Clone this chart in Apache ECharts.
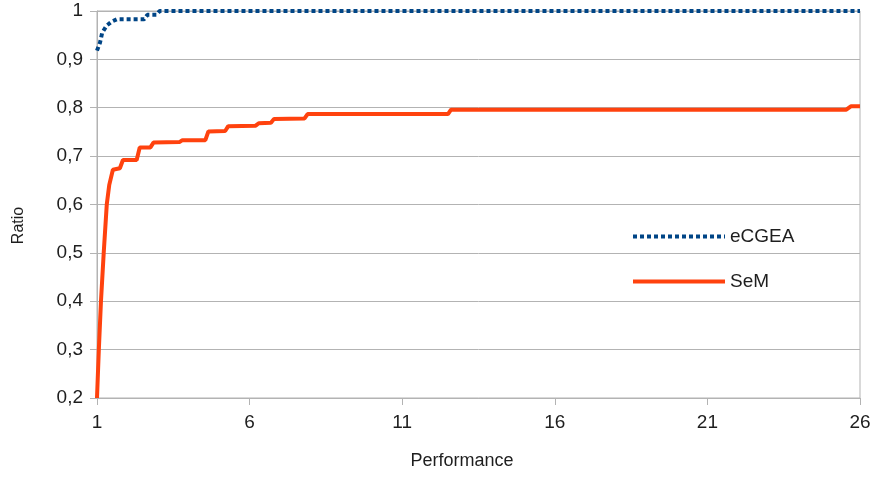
<!DOCTYPE html>
<html>
<head>
<meta charset="utf-8">
<script src="https://cdn.jsdelivr.net/npm/echarts@6/dist/echarts.min.js"></script>
<style>
  html, body { margin: 0; padding: 0; background: #fff; }
  #chart { width: 874px; height: 477px; }
</style>
</head>
<body>
<div id="chart"></div>
<script>
// Performance profile: fraction of problems solved within a given performance ratio
const seriesNames = ['eCGEA', 'SeM'];

const eCGEA = [
  [1, 0.918], [1.1, 0.935], [1.17, 0.955], [1.32, 0.97], [1.48, 0.978],
  [1.65, 0.983], [2.55, 0.983], [2.65, 0.992], [2.95, 0.992], [3.05, 1.0],
  [26, 1.0]
];

const SeM = [
  [1, 0.2], [1.06, 0.3], [1.13, 0.4], [1.22, 0.5], [1.32, 0.6], [1.4, 0.64],
  [1.52, 0.672], [1.75, 0.675], [1.85, 0.692], [2.3, 0.692], [2.4, 0.718],
  [2.75, 0.718], [2.85, 0.728], [3.7, 0.729], [3.8, 0.733], [4.55, 0.733],
  [4.65, 0.751], [5.2, 0.752], [5.3, 0.762], [6.2, 0.763], [6.3, 0.768],
  [6.7, 0.769], [6.8, 0.777], [7.8, 0.778], [7.9, 0.787], [12.5, 0.787],
  [12.6, 0.796], [25.55, 0.796], [25.7, 0.803], [26, 0.803]
];

const xTicks = { min: 1, max: 26, step: 5 };
const yTicks = { min: 0.2, max: 1, step: 0.1 };

const chart = echarts.init(document.getElementById('chart'), null, { renderer: 'canvas' });

const fontFamily = 'Liberation Sans, Arial, sans-serif';
const textColor = '#1e1e1e';
const gridColor = '#b3b3b3';
const labelFont = { fontFamily, fontSize: 19, color: textColor };

chart.setOption({
  animation: false,
  backgroundColor: '#fff',
  grid: {
    left: 97, right: 14, top: 11, bottom: 79,
    show: true, borderColor: gridColor, borderWidth: 1
  },
  legend: {
    orient: 'vertical',
    left: 626, top: 222,
    itemWidth: 92, itemHeight: 14, itemGap: 26,
    itemStyle: { opacity: 0 },
    lineStyle: { width: 4 },
    textStyle: { fontFamily, fontSize: 19, color: textColor },
    data: seriesNames
  },
  xAxis: {
    type: 'value',
    min: xTicks.min, max: xTicks.max, interval: xTicks.step,
    name: 'Performance', nameLocation: 'middle', nameGap: 54,
    // titles sit centred on the whole chart rather than on the plot area
    nameTextStyle: { fontFamily, fontSize: 18, color: textColor, padding: [0, 33, 0, 0] },
    axisLine: { lineStyle: { color: gridColor } },
    axisTick: { show: true, length: 7, lineStyle: { color: gridColor } },
    axisLabel: Object.assign({ margin: 15 }, labelFont),
    splitLine: { show: false }
  },
  yAxis: {
    type: 'value',
    min: yTicks.min, max: yTicks.max, interval: yTicks.step,
    name: 'Ratio', nameLocation: 'middle', nameGap: 70,
    nameTextStyle: { fontFamily, fontSize: 16, color: textColor, padding: [0, 42, 0, 0] },
    axisLine: { show: true, lineStyle: { color: gridColor } },
    axisTick: { show: true, length: 7, lineStyle: { color: gridColor } },
    axisLabel: Object.assign({
      margin: 14,
      formatter: v => String(+v.toFixed(1)).replace('.', ',')
    }, labelFont),
    splitLine: { show: true, lineStyle: { color: gridColor, width: 1 } }
  },
  series: [
    {
      name: 'eCGEA', type: 'line', data: eCGEA,
      symbol: 'none', showSymbol: false,
      lineStyle: { color: '#004586', width: 4, type: [4, 3], cap: 'butt' },
      itemStyle: { color: '#004586' },
      z: 3
    },
    {
      name: 'SeM', type: 'line', data: SeM,
      symbol: 'none', showSymbol: false,
      lineStyle: { color: '#ff420e', width: 4 },
      itemStyle: { color: '#ff420e' },
      z: 2
    }
  ]
});
</script>
</body>
</html>
